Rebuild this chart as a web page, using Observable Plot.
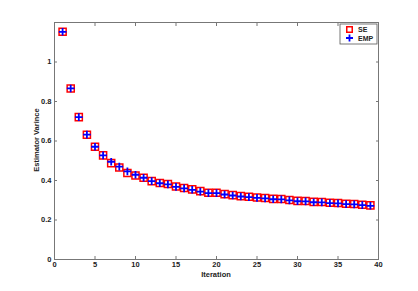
<!DOCTYPE html>
<html><head><meta charset="utf-8">
<script src="https://cdn.jsdelivr.net/npm/d3@7"></script>
<script src="https://cdn.jsdelivr.net/npm/@observablehq/plot@0.6"></script>
<style>
html,body{margin:0;padding:0;background:#fff;}
svg{display:block;}
</style></head><body>
<div id="chart"></div>
<script>
const iterations = d3.range(1, 40);
const seValues = [1.153,0.866,0.721,0.632,0.571,0.527,0.488,0.466,0.438,0.425,0.414,0.397,0.387,0.382,0.370,0.362,0.355,0.346,0.338,0.338,0.331,0.326,0.321,0.318,0.314,0.311,0.307,0.306,0.301,0.297,0.296,0.292,0.291,0.287,0.286,0.282,0.281,0.277,0.274];
const empValues = [1.153,0.866,0.721,0.632,0.571,0.527,0.495,0.470,0.446,0.429,0.414,0.397,0.386,0.380,0.368,0.360,0.353,0.344,0.336,0.336,0.329,0.324,0.319,0.316,0.312,0.309,0.305,0.304,0.299,0.295,0.294,0.290,0.289,0.285,0.284,0.280,0.279,0.275,0.272];
const xTicks = [0,5,10,15,20,25,30,35,40];
const yTicks = [0,0.2,0.4,0.6,0.8,1];
const yTickLabels = ["0","0.2","0.4","0.6","0.8","1"];
const seriesNames = ["SE","EMP"];

const se = iterations.map((x,i)=>({x, y: seValues[i]}));
const emp = iterations.map((x,i)=>({x, y: empValues[i]}));

const font = "'Liberation Sans', Arial, sans-serif";
const plot = Plot.plot({
  width: 418, height: 291,
  marginLeft: 54, marginRight: 40, marginTop: 22, marginBottom: 32,
  style: {fontFamily: font, fontSize: "7.5px", fontWeight: "bold", color: "#222", background: "#fff"},
  x: {domain: [0,40]},
  y: {domain: [0,1.2]},
  marks: [
    Plot.frame({stroke: "#777", strokeWidth: 1}),
    Plot.axisX({ticks: xTicks, tickSize: -3, tickPadding: 5, stroke: "#777", label: null, fill: "#222"}),
    Plot.axisX({anchor: "top", ticks: xTicks, tickSize: -3, tickFormat: () => "", stroke: "#777", label: null}),
    Plot.axisY({ticks: yTicks, tickSize: -3, tickPadding: 6, tickFormat: (d,i) => yTickLabels[i], stroke: "#777", label: null, fill: "#222"}),
    Plot.axisY({anchor: "right", ticks: yTicks, tickSize: -3, tickFormat: () => "", stroke: "#777", label: null}),
    Plot.dot(se, {x: "x", y: "y", symbol: "square", r: 4, stroke: "#ff0000", strokeWidth: 1.5, fill: "none"}),
    Plot.dot(emp, {x: "x", y: "y", symbol: "plus", r: 2.6, stroke: "#0000ff", strokeWidth: 1.8})
  ]
});
document.getElementById("chart").appendChild(plot);

const svg = d3.select(plot);
svg.append("text").attr("x", 216).attr("y", 277).attr("text-anchor","middle")
  .attr("font-family", font).attr("font-size", "7.5px").attr("font-weight","bold").attr("fill","#222").text("Iteration");
svg.append("text").attr("transform","translate(39,140) rotate(-90)").attr("text-anchor","middle")
  .attr("font-family", font).attr("font-size", "7.5px").attr("font-weight","bold").attr("fill","#222").text("Estimator Varince");

// legend
const lg = svg.append("g");
lg.append("rect").attr("x",340).attr("y",24).attr("width",37).attr("height",20).attr("fill","#fff").attr("stroke","#555").attr("stroke-width",0.8);
const lx = 349.5;
lg.append("path").attr("d", d3.symbol(d3.symbolSquare, 30)()).attr("transform",`translate(${lx},29.5)`).attr("fill","none").attr("stroke","#ff0000").attr("stroke-width",1.5);
lg.append("path").attr("d", "M-3.5,0H3.5M0,-3.5V3.5").attr("transform",`translate(${lx},38)`).attr("fill","none").attr("stroke","#0000ff").attr("stroke-width",1.8);
seriesNames.forEach((n,i)=>{
  lg.append("text").attr("x",358).attr("y",32 + i*8.5).attr("text-anchor","start").attr("font-family",font).attr("font-size","7px").attr("font-weight","bold").attr("fill","#222").text(n);
});
</script>
</body></html>
